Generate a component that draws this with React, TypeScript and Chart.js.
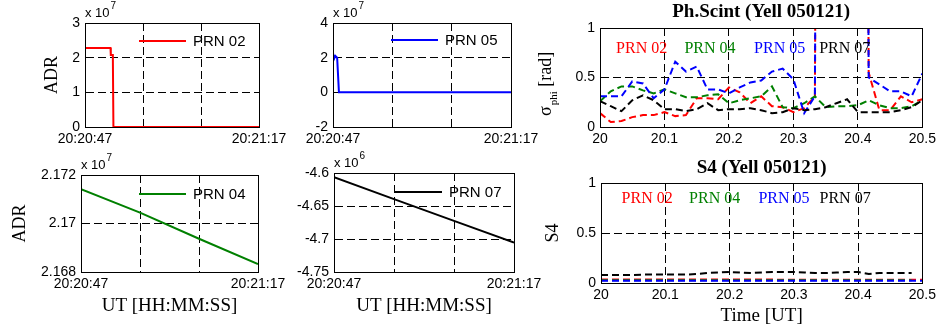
import React, { useEffect, useRef } from "react";
import { Chart, registerables } from "chart.js";

Chart.register(...registerables);

const W = 940;
const H = 333;
const SANS = "'Liberation Sans', Arial, Helvetica, sans-serif";
const SERIF = "'Liberation Serif', 'Times New Roman', Times, serif";
const RED = "#ff0000";
const GREEN = "#008000";
const BLUE = "#0000ff";
const BLACK = "#000000";

// ---------------- ADR panels (time = seconds after 20:20:00) ----------------
const adrTimeTicks = [47, 57, 67, 77];
const adrTimeLabels = ["20:20:47", "", "", "20:21:17"];

const prn02Time = [47, 51.4, 51.45, 51.8, 51.9, 77];
const prn02Adr = [2.28, 2.28, 2.08, 2.08, 0, 0]; // x 10^7

const prn05Time = [47, 47.2, 47.4, 47.7, 48.0, 77];
const prn05Adr = [2.25, 1.95, 2.1, 2.0, 0, 0]; // x 10^7

const prn04Time = [47, 57, 67, 77];
const prn04Adr = [2.17142, 2.17045, 2.16937, 2.16833]; // x 10^7

const prn07Time = [47, 57, 67, 77];
const prn07Adr = [-4.6065, -4.6395, -4.6725, -4.7055]; // x 10^6

const adr02Ticks = [0, 1, 2, 3];
const adr05Ticks = [-2, 0, 2, 4];
const adr04Ticks = [2.168, 2.17, 2.172];
const adr07Ticks = [-4.75, -4.7, -4.65, -4.6];

// ---------------- Scintillation panels (UT hours) ----------------
const utTime = [
  20, 20.0167, 20.0333, 20.05, 20.0667, 20.0833, 20.1, 20.1167, 20.1333, 20.15,
  20.1667, 20.1833, 20.2, 20.2167, 20.2333, 20.25, 20.2667, 20.2833, 20.3, 20.3167,
  20.3333, 20.35, 20.3667, 20.3833, 20.4, 20.4167, 20.4333, 20.45, 20.4667, 20.4833, 20.5,
];
const utTicks = [20, 20.1, 20.2, 20.3, 20.4, 20.5];
const utTickLabels = ["20", "20.1", "20.2", "20.3", "20.4", "20.5"];
const indexTicks = [0, 0.5, 1];
const indexTickLabels = ["0", "0.5", "1"];

const phiPrn02 = [0.14, 0.05, 0.06, 0.10, 0.12, 0.12, 0.15, 0.11, 0.12, 0.29, 0.29, 0.28, 0.40, 0.35, 0.24, 0.31, 0.21, 0.20, 0.15, 0.19, 0.31, 25, 25, 25, 25, 0.55, 0.17, 0.17, 0.31, 0.25, 0.28];
const phiPrn04 = [0.26, 0.36, 0.41, 0.41, 0.37, 0.34, 0.38, 0.34, 0.30, 0.30, 0.32, 0.33, 0.24, 0.27, 0.29, 0.31, 0.41, 0.20, 0.19, 0.24, 0.31, 0.20, 0.21, 0.21, 0.22, 0.27, 0.22, 0.19, 0.19, 0.21, 0.27];
const phiPrn05 = [0.31, 0.31, 0.31, 0.46, 0.44, 0.29, 0.38, 0.66, 0.56, 0.61, 0.38, 0.38, 0.34, 0.40, 0.45, 0.47, 0.56, 0.59, 0.48, 0.14, 0.31, 25, 25, 25, 25, 0.50, 0.43, 0.36, 0.36, 0.31, 0.54];
const phiPrn07 = [0.26, 0.21, 0.16, 0.27, 0.32, 0.27, 0.18, 0.18, 0.16, 0.18, 0.24, 0.17, 0.18, 0.18, 0.19, 0.17, 0.14, 0.15, 0.19, 0.17, 0.18, 0.20, 0.24, 0.28, 0.15, 0.15, 0.15, 0.15, 0.17, 0.20, 0.27];

const s4Prn02 = [0.035, 0.035, 0.035, 0.035, 0.035, 0.035, 0.035, 0.035, 0.035, 0.035, 0.035, 0.035, 0.035, 0.035, 0.035, 0.035, 0.035, 0.032, 0.032, 0.032, 0.032, 0.032, 0.032, 0.032, 0.032, 0.032, 0.032, 0.032, 0.032, 0.032, 0.032];
const s4Prn04 = [0.027, 0.027, 0.027, 0.027, 0.027, 0.027, 0.027, 0.027, 0.027, 0.027, 0.027, 0.027, 0.027, 0.027, 0.027, 0.027, 0.027, 0.027, 0.027, 0.027, 0.027, 0.027, 0.027, 0.027, 0.027, 0.027, 0.027, 0.027, 0.027, 0.027, null];
const s4Prn05 = [0.022, 0.022, 0.022, 0.022, 0.022, 0.022, 0.022, 0.022, 0.022, 0.022, 0.022, 0.022, 0.022, 0.022, 0.022, 0.022, 0.022, 0.022, 0.022, 0.022, 0.022, 0.022, 0.022, 0.022, 0.022, 0.022, 0.022, 0.022, 0.022, 0.022, 0.022];
const s4Prn07 = [0.08, 0.08, 0.08, 0.08, 0.085, 0.085, 0.085, 0.085, 0.085, 0.09, 0.1, 0.105, 0.11, 0.105, 0.1, 0.105, 0.11, 0.11, 0.11, 0.105, 0.1, 0.1, 0.105, 0.11, 0.11, 0.09, 0.1, 0.1, 0.1, 0.1, null];

// ---------------- helpers ----------------
const pts = (xs: number[], ys: (number | null)[]) => xs.map((x, i) => ({ x, y: ys[i] }));

const solid = (label: string, color: string, xs: number[], ys: number[], order: number) => ({
  label, data: pts(xs, ys), borderColor: color, borderWidth: 2, pointRadius: 0, tension: 0, fill: false, order,
});
const dashed = (label: string, color: string, xs: number[], ys: (number | null)[], order: number) => ({
  label, data: pts(xs, ys), borderColor: color, borderWidth: 2, borderDash: [7, 4], pointRadius: 0, tension: 0, fill: false, spanGaps: false, order,
});

const fmt = (v: number) => String(parseFloat(v.toFixed(4)));

type Decor = {
  exponent?: string;
  legend?: { text: string; color: string; dx: number; dy: number };
  labels?: { text: string; color: string; x: number; y: number }[];
  sigma?: { x: number; y: number };
};

type Panel = {
  L: number; T: number; R: number; B: number;
  xMin: number; xMax: number; xTicks: number[]; xLabels: string[];
  yMin: number; yMax: number; yTicks: number[]; yLabels?: string[];
  yTitle?: string; yTitleX?: number;
  xTitle?: string; xTitleY?: number;
  title?: string; titleY?: number;
  datasets: any[];
  decor: Decor;
};

function makeDecor(d: Decor) {
  return {
    id: "decor",
    afterDatasetsDraw(chart: any) {
      const ctx = chart.ctx as CanvasRenderingContext2D;
      const a = chart.chartArea;
      ctx.save();
      ctx.setLineDash([]);
      ctx.strokeStyle = "#000";
      ctx.lineWidth = 1;
      const l = Math.round(a.left) + 0.5, t = Math.round(a.top) + 0.5;
      ctx.strokeRect(l, t, Math.round(a.right) - Math.round(a.left), Math.round(a.bottom) - Math.round(a.top));

      if (d.exponent) {
        ctx.fillStyle = "#000";
        ctx.textAlign = "left";
        ctx.textBaseline = "alphabetic";
        ctx.font = `13px ${SANS}`;
        ctx.fillText("x 10", a.left, a.top - 6);
        const w = ctx.measureText("x 10").width;
        ctx.font = `10px ${SANS}`;
        ctx.fillText(d.exponent, a.left + w + 1, a.top - 14);
      }
      if (d.legend) {
        const x0 = a.left + d.legend.dx, y0 = a.top + d.legend.dy;
        ctx.strokeStyle = d.legend.color;
        ctx.lineWidth = 2;
        ctx.beginPath();
        ctx.moveTo(x0, y0);
        ctx.lineTo(x0 + 47, y0);
        ctx.stroke();
        ctx.fillStyle = "#000";
        ctx.font = `15px ${SANS}`;
        ctx.textAlign = "left";
        ctx.textBaseline = "middle";
        ctx.fillText(d.legend.text, x0 + 54, y0 + 1);
      }
      if (d.labels) {
        const xs = chart.scales.x, ys = chart.scales.y;
        ctx.font = `16px ${SERIF}`;
        ctx.textAlign = "left";
        ctx.textBaseline = "alphabetic";
        for (const lb of d.labels) {
          ctx.fillStyle = lb.color;
          ctx.fillText(lb.text, xs.getPixelForValue(lb.x), ys.getPixelForValue(lb.y));
        }
      }
      if (d.sigma) {
        ctx.translate(d.sigma.x, d.sigma.y);
        ctx.rotate(-Math.PI / 2);
        ctx.fillStyle = "#000";
        ctx.textAlign = "left";
        ctx.textBaseline = "alphabetic";
        ctx.font = `18px ${SERIF}`;
        ctx.fillText("σ", 0, 0);
        let w = ctx.measureText("σ").width + 1;
        ctx.font = `11px ${SERIF}`;
        ctx.fillText("phi", w, 6);
        w += ctx.measureText("phi").width;
        ctx.font = `18px ${SERIF}`;
        ctx.fillText(" [rad]", w, 0);
      }
      ctx.restore();
    },
  };
}

function makeConfig(p: Panel): any {
  const LH = 1.2;
  const titleSize = 19;
  const yTitleSize = 18;
  const xTitleSize = 19;
  let padTop = p.T;
  let title: any = { display: false };
  if (p.title && p.titleY !== undefined) {
    const lh = titleSize * LH;
    padTop = p.titleY - lh / 2;
    title = {
      display: true, text: p.title, fullSize: false, align: "center", color: "#000",
      font: { family: SERIF, size: titleSize, weight: "bold", lineHeight: LH },
      padding: { top: 0, bottom: p.T - padTop - lh },
    };
  }
  const yw = p.yTitle && p.yTitleX !== undefined ? p.L - (p.yTitleX - (yTitleSize * LH) / 2) : 44;
  const xh = p.xTitle && p.xTitleY !== undefined ? p.xTitleY + (xTitleSize * LH) / 2 - p.B : 24;
  const gridCommon = { color: "#000", lineWidth: 1, drawTicks: false, borderDash: [8, 4] };
  const borderCommon = { display: true, color: "#000", width: 1, dash: [8, 4] };
  return {
    type: "line",
    data: { datasets: p.datasets },
    options: {
      responsive: false,
      animation: false,
      events: [],
      layout: { padding: { left: p.L - yw, right: W - p.R, top: padTop, bottom: H - p.B - xh } },
      plugins: { legend: { display: false }, tooltip: { enabled: false }, title },
      scales: {
        x: {
          type: "linear",
          min: p.xMin,
          max: p.xMax,
          afterBuildTicks: (s: any) => { s.ticks = p.xTicks.map((v) => ({ value: v })); },
          afterFit: (s: any) => { s.height = xh; },
          ticks: {
            autoSkip: false, maxRotation: 0, minRotation: 0, padding: 4, color: "#000",
            font: { family: SANS, size: 14 },
            callback: (_v: any, i: number) => p.xLabels[i],
          },
          grid: gridCommon,
          border: borderCommon,
          title: p.xTitle
            ? { display: true, text: p.xTitle, color: "#000", font: { family: SERIF, size: xTitleSize, lineHeight: LH }, padding: 0 }
            : { display: false },
        },
        y: {
          type: "linear",
          min: p.yMin,
          max: p.yMax,
          afterBuildTicks: (s: any) => { s.ticks = p.yTicks.map((v) => ({ value: v })); },
          afterFit: (s: any) => { s.width = yw; },
          ticks: {
            autoSkip: false, padding: 5, color: "#000",
            font: { family: SANS, size: 14 },
            callback: (v: any, i: number) => (p.yLabels ? p.yLabels[i] : fmt(Number(v))),
          },
          grid: gridCommon,
          border: borderCommon,
          title: p.yTitle
            ? { display: true, text: p.yTitle, color: "#000", font: { family: SERIF, size: yTitleSize, lineHeight: LH }, padding: 0 }
            : { display: false },
        },
      },
    },
    plugins: [makeDecor(p.decor)],
  };
}

const PANELS: Panel[] = [
  {
    L: 85, T: 23, R: 259, B: 127,
    xMin: 47, xMax: 77, xTicks: adrTimeTicks, xLabels: adrTimeLabels,
    yMin: 0, yMax: 3, yTicks: adr02Ticks,
    yTitle: "ADR", yTitleX: 52,
    datasets: [solid("PRN 02", RED, prn02Time, prn02Adr, 0)],
    decor: { exponent: "7", legend: { text: "PRN 02", color: RED, dx: 54, dy: 18 } },
  },
  {
    L: 333, T: 23, R: 511, B: 127,
    xMin: 47, xMax: 77, xTicks: adrTimeTicks, xLabels: adrTimeLabels,
    yMin: -2, yMax: 4, yTicks: adr05Ticks,
    datasets: [solid("PRN 05", BLUE, prn05Time, prn05Adr, 0)],
    decor: { exponent: "7", legend: { text: "PRN 05", color: BLUE, dx: 58, dy: 17 } },
  },
  {
    L: 81, T: 175, R: 258, B: 272,
    xMin: 47, xMax: 77, xTicks: adrTimeTicks, xLabels: adrTimeLabels,
    yMin: 2.168, yMax: 2.172, yTicks: adr04Ticks,
    yTitle: "ADR", yTitleX: 20,
    xTitle: "UT [HH:MM:SS]", xTitleY: 306,
    datasets: [solid("PRN 04", GREEN, prn04Time, prn04Adr, 0)],
    decor: { exponent: "7", legend: { text: "PRN 04", color: GREEN, dx: 58, dy: 19 } },
  },
  {
    L: 334, T: 173, R: 514, B: 272,
    xMin: 47, xMax: 77, xTicks: adrTimeTicks, xLabels: adrTimeLabels,
    yMin: -4.75, yMax: -4.6, yTicks: adr07Ticks,
    xTitle: "UT [HH:MM:SS]", xTitleY: 306,
    datasets: [solid("PRN 07", BLACK, prn07Time, prn07Adr, 0)],
    decor: { exponent: "6", legend: { text: "PRN 07", color: BLACK, dx: 61, dy: 19 } },
  },
  {
    L: 600, T: 28, R: 924, B: 127,
    xMin: 20, xMax: 20.5, xTicks: utTicks, xLabels: utTickLabels,
    yMin: 0, yMax: 1, yTicks: indexTicks, yLabels: indexTickLabels,
    title: "Ph.Scint (Yell 050121)", titleY: 12,
    datasets: [
      dashed("PRN 02", RED, utTime, phiPrn02, 0),
      dashed("PRN 04", GREEN, utTime, phiPrn04, -1),
      dashed("PRN 05", BLUE, utTime, phiPrn05, -2),
      dashed("PRN 07", BLACK, utTime, phiPrn07, -3),
    ],
    decor: {
      sigma: { x: 551, y: 116 },
      labels: [
        { text: "PRN 02", color: RED, x: 20.025, y: 0.75 },
        { text: "PRN 04", color: GREEN, x: 20.131, y: 0.75 },
        { text: "PRN 05", color: BLUE, x: 20.239, y: 0.75 },
        { text: "PRN 07", color: BLACK, x: 20.34, y: 0.75 },
      ],
    },
  },
  {
    L: 601, T: 183, R: 926, B: 283,
    xMin: 20, xMax: 20.5, xTicks: utTicks, xLabels: utTickLabels,
    yMin: 0, yMax: 1, yTicks: indexTicks, yLabels: indexTickLabels,
    title: "S4 (Yell 050121)", titleY: 168,
    yTitle: "S4", yTitleX: 553,
    xTitle: "Time [UT]", xTitleY: 316,
    datasets: [
      dashed("PRN 02", RED, utTime, s4Prn02, 0),
      dashed("PRN 04", GREEN, utTime, s4Prn04, -1),
      dashed("PRN 05", BLUE, utTime, s4Prn05, -2),
      dashed("PRN 07", BLACK, utTime, s4Prn07, -3),
    ],
    decor: {
      labels: [
        { text: "PRN 02", color: RED, x: 20.032, y: 0.8 },
        { text: "PRN 04", color: GREEN, x: 20.137, y: 0.8 },
        { text: "PRN 05", color: BLUE, x: 20.245, y: 0.8 },
        { text: "PRN 07", color: BLACK, x: 20.34, y: 0.8 },
      ],
    },
  },
];

export default function App() {
  const refs = useRef<(HTMLCanvasElement | null)[]>([]);
  useEffect(() => {
    const charts = PANELS.map((p, i) => new Chart(refs.current[i] as HTMLCanvasElement, makeConfig(p)));
    return () => charts.forEach((c) => c.destroy());
  }, []);
  return (
    <div style={{ position: "fixed", left: 0, top: 0, width: W, height: H, background: "#fff", overflow: "hidden" }}>
      {PANELS.map((_p, i) => (
        <canvas
          key={i}
          ref={(el) => { refs.current[i] = el; }}
          width={W}
          height={H}
          style={{ position: "absolute", left: 0, top: 0, width: W, height: H }}
        />
      ))}
    </div>
  );
}
